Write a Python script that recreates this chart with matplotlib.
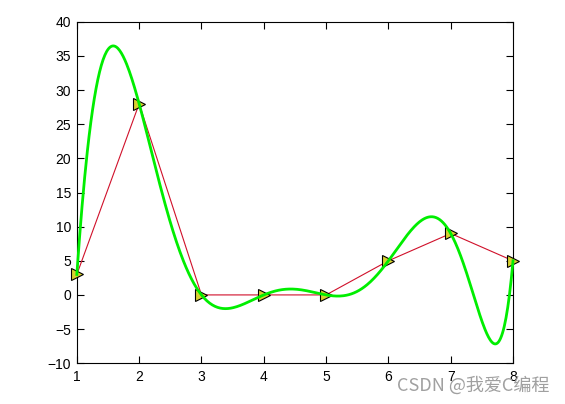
import numpy as np
import matplotlib
matplotlib.use("Agg")
import matplotlib.pyplot as plt

x = [1, 2, 3, 4, 5, 6, 7, 8]
y = [3, 28, 0, 0, 0, 5, 9, 5]
xticks = [1, 2, 3, 4, 5, 6, 7, 8]
yticks = [-10, -5, 0, 5, 10, 15, 20, 25, 30, 35, 40]

# degree-8 polyfit on 8 points (underdetermined): basic solution with the
# x^2 coefficient left at zero, as matlab's polyfit returns it
V = np.vander(np.array(x, float), 9)
keep = [0, 1, 2, 3, 4, 5, 7, 8]
sol = np.linalg.solve(V[:, keep], np.array(y, float))
p = np.zeros(9)
p[keep] = sol
xx = np.linspace(1, 8, 500)
yy = np.polyval(p, xx)

plt.rcParams['font.family'] = ['Liberation Sans', 'DejaVu Sans']
fig = plt.figure(figsize=(5.65, 4.04), dpi=100)
ax = fig.add_axes([0.136, 0.101, 0.772, 0.845])

ax.plot(x, y, color='#d0102a', linewidth=0.8, marker='>', markersize=8,
        markerfacecolor='#d8d030', markeredgecolor='black', markeredgewidth=0.8,
        clip_on=False, zorder=3)
ax.plot(xx, yy, color='#00ee00', linewidth=2.0, clip_on=False, zorder=4)

ax.set_xlim(1, 8)
ax.set_ylim(-10, 40)
ax.set_xticks(xticks)
ax.set_yticks(yticks)
ax.tick_params(direction='in', top=True, right=True, labelsize=10, length=5, width=0.8)
ax.tick_params(axis='x', pad=5)
ax.tick_params(axis='y', pad=4)
for s in ax.spines.values():
    s.set_linewidth(0.8)

fig.text(0.972, 0.047, 'CSDN @我爱C编程', ha='right', va='center', fontsize=13,
         color='#a0a0a0', family=['Noto Sans CJK SC', 'DejaVu Sans'], zorder=10)

fig.savefig('out.png', dpi=100)
